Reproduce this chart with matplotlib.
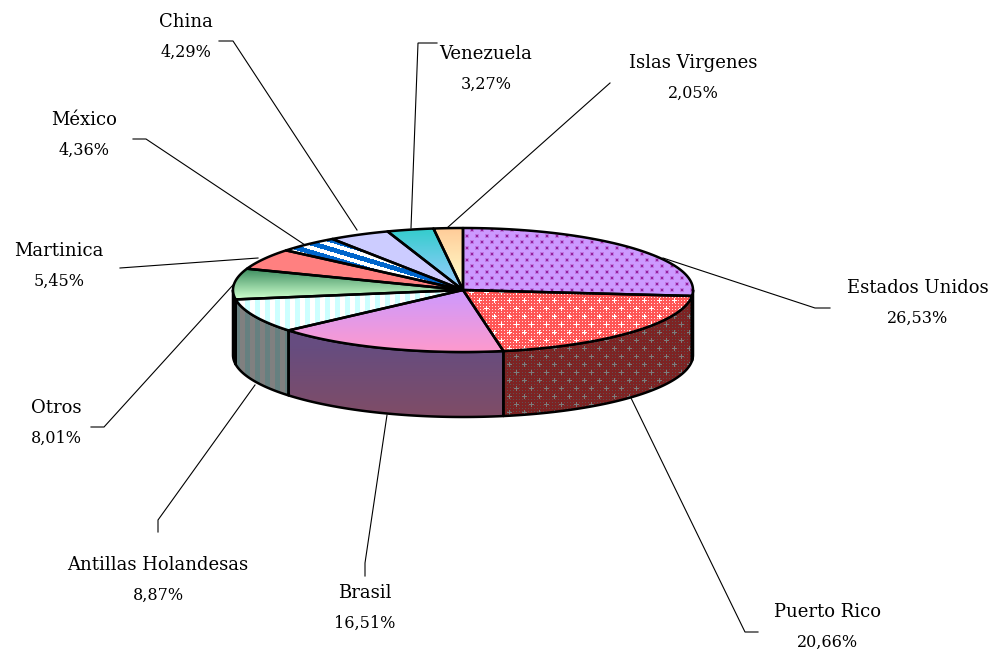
import numpy as np
import matplotlib
matplotlib.use("Agg")
import matplotlib.pyplot as plt
from matplotlib.patches import Polygon

# values, clockwise from 12 o'clock
paises = ["Estados Unidos", "Puerto Rico", "Brasil", "Antillas Holandesas", "Otros",
          "Martinica", "México", "China", "Venezuela", "Islas Virgenes"]
valores = [26.53, 20.66, 16.51, 8.87, 8.01, 5.45, 4.36, 4.29, 3.27, 2.05]
etiquetas = ["26,53%", "20,66%", "16,51%", "8,87%", "8,01%",
             "5,45%", "4,36%", "4,29%", "3,27%", "2,05%"]

# layout in image pixels
W, H = 995, 650
CX, CY, RX, RY, DEPTH = 463, 290, 230, 62, 65

label_pos = [(918, 303), (828, 627), (365, 608), (158, 580), (56, 423),
             (59, 266), (84, 135), (186, 37), (486, 69), (693, 78)]
leaders = [
    [(830, 308), (815, 308), (663, 258)],
    [(758, 632), (745, 632), (631, 398)],
    [(365, 576), (365, 563), (387, 415)],
    [(158, 532), (158, 520), (255, 385)],
    [(91, 427), (104, 427), (233, 285)],
    [(120, 268), (258, 258)],
    [(133, 139), (146, 139), (305, 245)],
    [(219, 41), (233, 41), (357, 230)],
    [(437, 43), (418, 43), (411, 228)],
    [(610, 83), (447, 228)],
]

X, Y = np.meshgrid(np.arange(W), np.arange(H))


def rgb(c):
    return np.array(c, dtype=float) / 255


def vgrad(c1, c2, y0, y1):
    t = np.clip((Y - y0) / (y1 - y0), 0, 1)[..., None]
    return rgb(c1) * (1 - t) + rgb(c2) * t


def solid(c):
    return np.ones((H, W, 3)) * rgb(c)


def paint(img, mask, c):
    img[mask] = rgb(c)
    return img


def dots(base, halo, dot):
    img = solid(base)
    row = Y // 6
    px = (X + 5 * (row % 2)) % 10
    py = Y % 6
    paint(img, (px < 4) & (py < 4), halo)
    paint(img, (px >= 1) & (px < 3) & (py >= 1) & (py < 3), dot)
    return img


def plus(base, fine, mark):
    img = solid(base)
    paint(img, (X % 3 == 0) & (Y % 3 == 0), fine)
    row = Y // 8
    px = (X + 7 * (row % 2)) % 15
    py = Y % 8
    m = ((px == 6) & (py >= 2) & (py <= 6)) | ((py == 4) & (px >= 4) & (px <= 8))
    paint(img, m, mark)
    return img


def vstripes(c1, c2, period=10):
    img = solid(c1)
    paint(img, X % period < period // 2, c2)
    return img


def diag(c1, c2):
    img = solid(c1)
    paint(img, (Y - (0.3 * X).astype(int)) % 9 < 4, c2)
    return img


top_fill = [
    dots((204, 153, 255), (190, 120, 225), (150, 30, 160)),
    plus((255, 85, 85), (255, 225, 225), (255, 255, 255)),
    vgrad((204, 153, 255), (255, 153, 204), 290, 352),
    vstripes((204, 255, 255), (255, 255, 255)),
    vgrad((60, 140, 95), (204, 255, 204), 268, 298),
    solid((255, 128, 128)),
    diag((0, 102, 204), (255, 255, 255)),
    solid((204, 204, 255)),
    vgrad((51, 204, 204), (153, 204, 255), 228, 285),
    vgrad((255, 204, 153), (255, 255, 204), 228, 285),
]
side_fill = [
    solid((25, 10, 30)),
    plus((125, 35, 35), (95, 80, 80), (125, 125, 125)),
    vgrad((102, 76, 128), (128, 76, 102), 345, 417),
    vstripes((102, 128, 128), (128, 128, 128)),
    solid((25, 45, 30)),
]

fig = plt.figure(figsize=(W / 100, H / 100), dpi=100)
ax = fig.add_axes([0, 0, 1, 1])
ax.axis("off")


def ell(t, dy=0):
    return np.column_stack([CX + RX * np.sin(t), CY + dy - RY * np.cos(t)])


def fill(pts, img, z):
    poly = Polygon(pts, closed=True, facecolor="none", edgecolor="black", lw=1.8,
                   joinstyle="round", zorder=z + 0.1)
    ax.add_patch(poly)
    im = ax.imshow(img, extent=(0, W, H, 0), aspect="auto", interpolation="nearest", zorder=z)
    im.set_clip_path(poly)


edges = np.radians(np.cumsum([0] + valores) * 3.6)

for i in range(len(valores)):
    a0, a1 = edges[i], edges[i + 1]
    # side wall only for the part facing the viewer
    s0, s1 = max(a0, np.pi / 2), min(a1, 3 * np.pi / 2)
    if s1 > s0 and i < len(side_fill):
        t = np.linspace(s0, s1, 80)
        fill(np.vstack([ell(t), ell(t[::-1], DEPTH)]), side_fill[i], 2)
    t = np.linspace(a0, a1, 120)
    fill(np.vstack([[(CX, CY)], ell(t)]), top_fill[i], 3)

for pts in leaders:
    xs, ys = zip(*pts)
    ax.plot(xs, ys, color="black", lw=0.8, zorder=1, solid_joinstyle="miter")

for nombre, et, (lx, ly) in zip(paises, etiquetas, label_pos):
    ax.text(lx, ly - 15, nombre, ha="center", va="center", family="DejaVu Serif",
            fontsize=13, color="black", zorder=5)
    ax.text(lx, ly + 15, et, ha="center", va="center", family="DejaVu Serif",
            fontsize=11.5, color="black", zorder=5)

ax.set_xlim(0, W)
ax.set_ylim(H, 0)
fig.savefig("out.png", dpi=100, facecolor="white")
